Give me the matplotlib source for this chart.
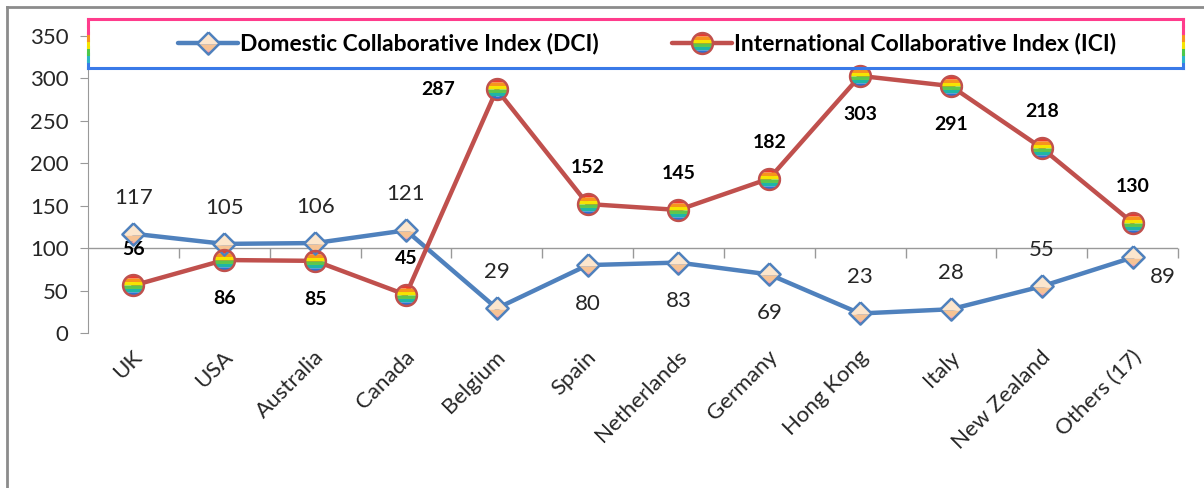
import numpy as np
import matplotlib.pyplot as plt
from matplotlib.path import Path
from matplotlib.lines import Line2D
from matplotlib.legend_handler import HandlerTuple

plt.rcParams['font.family'] = ['Lato', 'DejaVu Sans']

countries = ['UK', 'USA', 'Australia', 'Canada', 'Belgium', 'Spain', 'Netherlands',
             'Germany', 'Hong Kong', 'Italy', 'New Zealand', 'Others (17)']
dci = [117, 105, 106, 121, 29, 80, 83, 69, 23, 28, 55, 89]
ici = [56, 86, 85, 45, 287, 152, 145, 182, 303, 291, 218, 130]
dci_pos = ['above', 'above', 'above', 'above', 'above', 'below', 'below', 'below',
           'above', 'above', 'above', 'right']
ici_pos = ['above', 'below', 'below', 'above', 'left', 'above', 'above', 'above',
           'below', 'below', 'above', 'above']

BLUE = '#4f81bd'
RED = '#c0504d'
rainbow = ['#ec3a2c', '#f7941d', '#f6e400', '#5ec64b', '#1fb5a6', '#2f6fd2']
peach = [('#fce6cd', 0.55), ('#f7c394', 0.25), ('#f2aaa6', 0.1), ('#d82a62', 0.1),
         ('#f3a6cc', 0.0)]


def band_marker(shape, y0, y1, n=30):
    # polygon of the shape cut to the band y0..y1 (shape spans -1..1)
    ys = np.linspace(y0, y1, n)
    if shape == 'circle':
        xs = np.sqrt(np.clip(1 - ys ** 2, 0, None))
    else:
        ys = np.unique(np.append(ys, 0.0) if y0 < 0 < y1 else ys)
        xs = 1 - np.abs(ys)
    verts = [(-1, -1), (1, 1)]
    verts += list(zip(xs, ys)) + list(zip(-xs[::-1], ys[::-1])) + [(xs[0], ys[0])]
    codes = [Path.MOVETO, Path.MOVETO, Path.MOVETO] + [Path.LINETO] * (len(verts) - 4) + [Path.CLOSEPOLY]
    return Path(verts, codes)


def outline(shape):
    if shape == 'circle':
        t = np.linspace(0, 2 * np.pi, 80)
        verts = list(zip(np.cos(t), np.sin(t)))
    else:
        verts = [(0, 1), (1, 0), (0, -1), (-1, 0), (0, 1)]
    return Path(verts)


fig = plt.figure(figsize=(12.04, 4.88), dpi=100)
ax = fig.add_axes([88 / 1204, 1 - 333 / 488, 1090 / 1204, 297 / 488])
x = np.arange(len(countries))


def draw_series(vals, color, shape, bands, ms):
    handles = []
    ln, = ax.plot(x, vals, color=color, lw=3.2, solid_capstyle='round', zorder=3)
    handles.append(ln)
    y = 1.0
    for c, h in bands:
        y0 = y - 2 * h if h > 0 else -1.0
        m, = ax.plot(x, vals, ls='none', marker=band_marker(shape, max(y0, -1.0), y),
                     ms=ms, mfc=c, mec='none', mew=0, zorder=4)
        handles.append(m)
        y = y0
    e, = ax.plot(x, vals, ls='none', marker=outline(shape), ms=ms, mfc='none',
                 mec=color, mew=1.8, zorder=5)
    handles.append(e)
    return tuple(handles)


rb = [(c, 1 / len(rainbow)) for c in rainbow[:-1]] + [(rainbow[-1], 0.0)]
h_dci = draw_series(dci, BLUE, 'diamond', peach, 16)
h_ici = draw_series(ici, RED, 'circle', rb, 15)

offsets = {'above': (0, 26), 'below': (0, -28), 'right': (22, -14), 'left': (-42, 0)}
for i in x:
    ax.annotate(str(dci[i]), (i, dci[i]), xytext=offsets[dci_pos[i]], textcoords='offset points',
                ha='center', va='center', fontsize=16, color='#262626')
    ax.annotate(str(ici[i]), (i, ici[i]), xytext=offsets[ici_pos[i]], textcoords='offset points',
                ha='center', va='center', fontsize=14, fontweight='bold', color='black')

ax.set_xlim(-0.5, len(countries) - 0.5)
ax.set_ylim(0, 350)
ax.set_yticks(np.arange(0, 351, 50))
ax.tick_params(axis='y', direction='out', length=6, color='#999999', labelsize=16,
               labelcolor='#262626', pad=8)
for s in ['top', 'right', 'bottom']:
    ax.spines[s].set_visible(False)
ax.spines['left'].set_color('#999999')

# horizontal axis crosses at 100, labels stay at the bottom
ax.axhline(100, color='#999999', lw=1, zorder=2)
ax.set_xticks([])
ax.plot(np.arange(0.5, len(countries), 1.0), [100] * len(countries), ls='none',
        marker=3, ms=7, mew=1, color='#999999', clip_on=False)
for i, name in enumerate(countries):
    ax.annotate(name, (i, 0), xycoords=('data', 'data'), xytext=(9, -10),
                textcoords='offset points', rotation=45, ha='right', va='top',
                fontsize=16, color='#262626', annotation_clip=False)

# legend with the banded markers
leg = fig.legend([h_dci, h_ici],
                 ['Domestic Collaborative Index (DCI)', 'International Collaborative Index (ICI)'],
                 handler_map={tuple: HandlerTuple(ndivide=1)}, ncol=2, frameon=False,
                 loc='center', bbox_to_anchor=(647 / 1204, 1 - 44 / 488),
                 prop={'weight': 'bold', 'size': 16.5}, handlelength=2.6, handletextpad=0.1,
                 columnspacing=3.2, numpoints=1)

# legend box with coloured edges
L, R = 88 / 1204, 1183 / 1204
T, B = 1 - 19 / 488, 1 - 68 / 488
fig.add_artist(Line2D([L, R], [T, T], color='#ff3c8c', lw=2.2, transform=fig.transFigure))
fig.add_artist(Line2D([L, R], [B, B], color='#3a7ae8', lw=2.2, transform=fig.transFigure))
side = ['#3a7ae8', '#2cb5c8', '#4cc84a', '#f5e400', '#f7941d', '#ff3c8c', '#ff3c8c']
ys = np.linspace(B, T, len(side) + 1)
for k, c in enumerate(side):
    for xx in (L, R):
        fig.add_artist(Line2D([xx, xx], [ys[k], ys[k + 1]], color=c, lw=2.2,
                              transform=fig.transFigure))

# outer chart frame (top and left edges visible)
fig.add_artist(Line2D([7 / 1204, 1], [1 - 7 / 488, 1 - 7 / 488], color='#8c8c8c', lw=2,
                      transform=fig.transFigure))
fig.add_artist(Line2D([7 / 1204, 7 / 1204], [0, 1 - 7 / 488], color='#8c8c8c', lw=2,
                      transform=fig.transFigure))

fig.savefig('out.png', dpi=100)
